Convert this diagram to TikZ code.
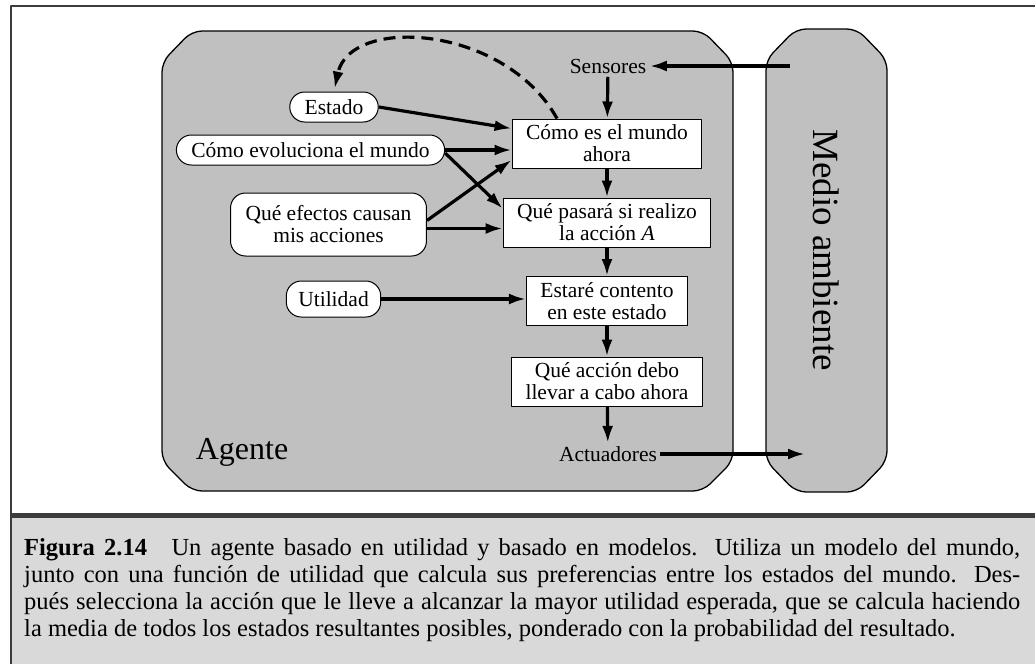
\documentclass[tikz,border=0pt]{standalone}
\usepackage{fontspec}
\setmainfont{Liberation Serif}
\usetikzlibrary{arrows.meta}

\definecolor{agentfill}{HTML}{C0C0C0}
\definecolor{captionfill}{HTML}{D9D9D9}
\definecolor{framecol}{HTML}{3C3C3C}

\newcommand{\boxfont}{\fontsize{21.5}{22}\selectfont}
\newcommand{\capline}[1]{\makebox[996pt][s]{#1}}

\begin{document}
\begin{tikzpicture}[x=1pt,y=-1pt,line join=round]
	\useasboundingbox (0,0) rectangle (1035,664);
	% frame and caption band
	\fill[captionfill] (11,517) rectangle (1035,664);
	\draw[framecol,line width=1.2pt] (1035,6) -- (11,6) -- (11,664);
	\draw[framecol,line width=5pt] (11,515) -- (1035,515);

	% agent and environment
	\filldraw[fill=agentfill,line width=1.3pt,rounded corners=10pt]
		(162,62) -- (192,31) -- (703,31) -- (733,62) -- (733,461) -- (703,491) -- (192,491) -- (162,461) -- cycle;
	\filldraw[fill=agentfill,line width=1.3pt,rounded corners=10pt]
		(766,60) -- (796,29) -- (857,29) -- (887,60) -- (887,461) -- (857,492) -- (796,492) -- (766,461) -- cycle;
	\node (agente) at (242,452) {\fontsize{32}{34}\selectfont Agente};
	\node[rotate=-90] (medio) at (826,250) {\fontsize{37}{39}\selectfont Medio ambiente};
	\coordinate (senv) at (790,66);
	\coordinate (aenv) at (805,454);

	\node[font=\fontsize{21.5}{23}\selectfont] (sens) at (608,66) {Sensores};
	\node[font=\fontsize{21.5}{23}\selectfont] (act) at (608,454) {Actuadores};

	\begin{scope}[every node/.style={draw,fill=white,line width=1pt,align=center,font=\boxfont,inner xsep=14pt,minimum height=49pt}]
		\node (ahora) at (607,143.5) {Cómo es el mundo\\ahora};
		\node (pasara) at (607,222.5) {Qué pasará si realizo\\la acción \textit{A}};
		\node (contento) at (607,301) {Estaré contento\\en este estado};
		\node (accion) at (607,381.5) {Qué acción debo\\llevar a cabo ahora};
	\end{scope}

	\begin{scope}[every node/.style={draw,fill=white,line width=1pt,rounded corners=15pt,align=center,font=\boxfont,inner xsep=15pt,inner ysep=3pt,minimum height=30pt}]
		\node (estado) at (334,107) {Estado};
		\node (evol) at (310.5,150) {Cómo evoluciona el mundo};
		\node[minimum height=63pt] (efectos) at (328.5,224.5) {Qué efectos causan\\mis acciones};
		\node[minimum height=36pt,inner xsep=12pt] (util) at (333.5,299) {Utilidad};
	\end{scope}

	\begin{scope}[>={Latex[length=17pt,width=11pt]},line width=3.2pt]
		\draw[->] (senv) -- (sens);
		\draw[->] (sens) -- (ahora);
		\draw[->] (ahora) -- (pasara);
		\draw[->] (pasara) -- (contento);
		\draw[->] (contento) -- (accion);
		\draw[->] (accion) -- (act);
		\draw[->] (act) -- (aenv);
		\draw[->] (estado.east) -- ([yshift=15pt]ahora.west);
		\draw[->] (evol.east) -- (evol.east -| ahora.west);
		\draw[->] ([yshift=-3pt]evol.east) -- ([yshift=14pt]pasara.west);
		\draw[->] ([yshift=4pt]efectos.east) -- ([yshift=-16.5pt]ahora.west);
		\draw[->] ([yshift=-4pt]efectos.east) -- ([yshift=-4pt]efectos.east -| pasara.west);
		\draw[->] (util.east) -- (util.east -| contento.west);
		\draw[->,dash pattern=on 12pt off 7pt,shorten >=3pt]
			([xshift=-50pt]ahora.north) .. controls (505,25) and (350,15) .. (estado.north);
	\end{scope}

	% caption
	\node[anchor=north west,inner sep=0pt,align=left,font=\fontsize{24.5}{27}\selectfont] (caption) at (24,538)
		{\capline{\textbf{Figura 2.14}\quad Un agente basado en utilidad y basado en modelos. Utiliza un modelo del mundo,}\\
		 \capline{junto con una función de utilidad que calcula sus preferencias entre los estados del mundo. Des-}\\
		 \capline{pués selecciona la acción que le lleve a alcanzar la mayor utilidad esperada, que se calcula haciendo}\\
		 la media de todos los estados resultantes posibles, ponderado con la probabilidad del resultado.};
\end{tikzpicture}
\end{document}
